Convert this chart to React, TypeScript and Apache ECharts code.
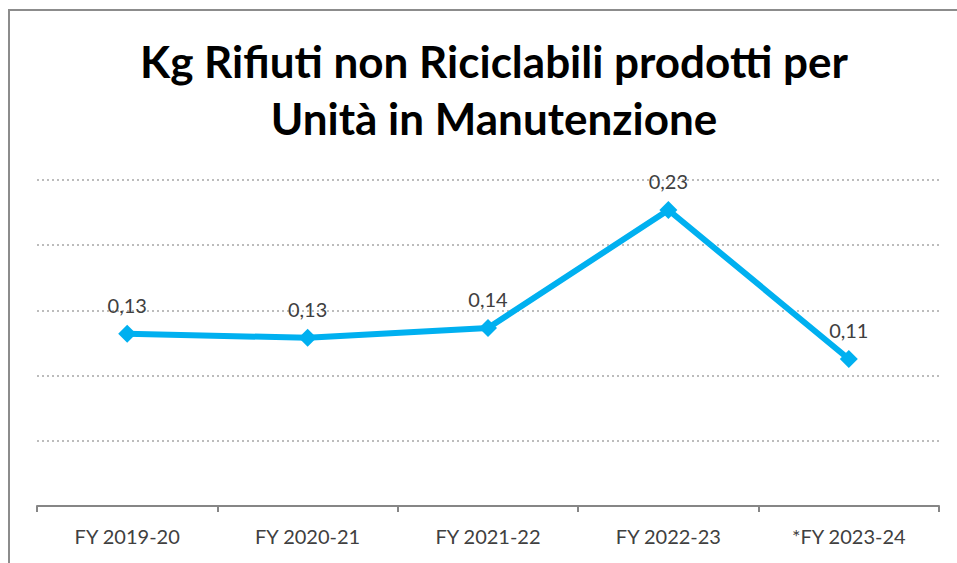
import React, { useEffect, useRef } from "react";
import * as echarts from "echarts";

const categories = ["FY 2019-20", "FY 2020-21", "FY 2021-22", "FY 2022-23", "*FY 2023-24"];
const values = [0.132, 0.129, 0.1365, 0.227, 0.1127];
const titleLines = ["Kg Rifiuti non Riciclabili prodotti per", "Unità in Manutenzione"];

export default function App() {
  const ref = useRef<HTMLDivElement>(null);
  useEffect(() => {
    if (!ref.current) return;
    const chart = echarts.init(ref.current, null, { renderer: "svg" });
    const font = "Lato, 'Open Sans', sans-serif";
    chart.setOption({
      animation: false,
      backgroundColor: "#ffffff",
      title: {
        text: titleLines.join("\n"),
        left: 489,
        textAlign: "center",
        top: 27,
        textStyle: {
          fontFamily: font,
          fontWeight: "bold",
          fontSize: 44,
          lineHeight: 57,
          color: "#000000",
        },
      },
      graphic: [
        {
          type: "rect",
          shape: { x: 9, y: 10, width: 980, height: 600 },
          style: { fill: "none", stroke: "#8c8c8c", lineWidth: 2 },
          silent: true,
        },
      ],
      grid: { left: 37, right: 18, top: 180, bottom: 57 },
      xAxis: {
        type: "category",
        data: categories,
        boundaryGap: true,
        axisLine: { lineStyle: { color: "#868686", width: 2 } },
        axisTick: { show: true, length: 6, lineStyle: { color: "#868686", width: 2 } },
        axisLabel: { fontFamily: font, fontSize: 20, color: "#404040", margin: 20 },
      },
      yAxis: {
        type: "value",
        min: 0,
        max: 0.25,
        interval: 0.05,
        axisLabel: { show: false },
        axisLine: { show: false },
        axisTick: { show: false },
        splitLine: { lineStyle: { color: "#a6a6a6", type: [2, 3], width: 1.5 } },
      },
      series: [
        {
          type: "line",
          data: values,
          symbol: "diamond",
          symbolSize: 18,
          itemStyle: { color: "#00B0F0" },
          lineStyle: { color: "#00B0F0", width: 6 },
          label: {
            show: true,
            position: "top",
            distance: 10,
            fontFamily: font,
            fontSize: 20,
            color: "#404040",
            formatter: (p: any) => p.value.toFixed(2).replace(".", ","),
          },
        },
      ],
    });
    return () => chart.dispose();
  }, []);
  return <div ref={ref} style={{ position: "fixed", left: 0, top: 0, width: 957, height: 563 }} />;
}
